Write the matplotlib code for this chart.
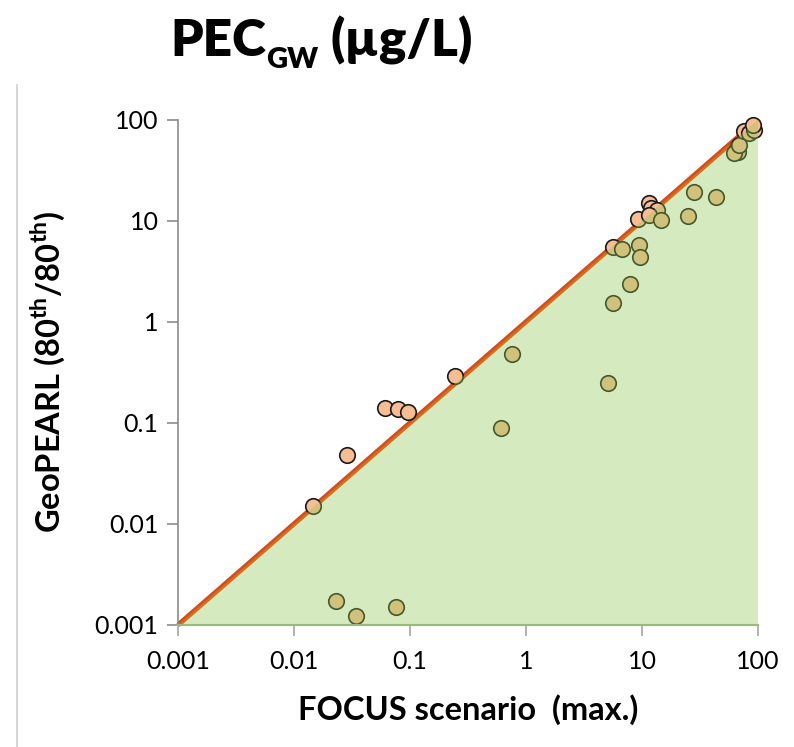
import matplotlib
matplotlib.use("Agg")
import matplotlib.pyplot as plt
from matplotlib.lines import Line2D
import numpy as np

plt.rcParams['font.family'] = ['Lato', 'DejaVu Sans']
plt.rcParams['mathtext.fontset'] = 'custom'
plt.rcParams['mathtext.rm'] = 'Lato'
plt.rcParams['mathtext.bf'] = 'Lato:bold'

# FOCUS scenario (max.) vs GeoPEARL (80th/80th) PEC_GW values (µg/L)
focus_x = [0.0289, 0.0608, 0.0794, 0.097, 0.242, 9.18, 11.4, 5.58, 6.76,
           0.0147, 0.0228, 0.0345, 0.075, 0.604, 0.751, 5.07, 5.58, 7.84,
           9.36, 9.55, 11.9, 13.4, 11.4, 14.5, 24.9, 28.1, 43.4,
           65.6, 67.0, 61.8, 68.3, 75.5, 83.4, 92.0, 90.0]
geopearl_y = [0.0478, 0.139, 0.136, 0.127, 0.288, 10.5, 15.1, 5.45, 5.23,
              0.0149, 0.00171, 0.00122, 0.0015, 0.0883, 0.476, 0.246, 1.52, 2.34,
              5.70, 4.34, 13.5, 12.9, 11.3, 10.2, 11.0, 19.3, 17.3,
              51.9, 47.4, 46.3, 55.6, 76.4, 72.9, 78.2, 87.5]

axis_min, axis_max = 0.001, 100
tick_vals = [0.001, 0.01, 0.1, 1, 10, 100]
tick_labels = ['0.001', '0.01', '0.1', '1', '10', '100']

fig = plt.figure(figsize=(7.94, 7.47), dpi=100)
ax = fig.add_axes([178/794, 1-625/747, 580/794, 505.4/747])
ax.set_xscale('log')
ax.set_yscale('log')
ax.set_xlim(axis_min, axis_max)
ax.set_ylim(axis_min, axis_max)

# 1:1 line
ax.plot([axis_min, axis_max], [axis_min, axis_max], color='#e2480f', lw=3.6,
        zorder=1, solid_capstyle='butt', clip_on=False)
# points
ax.scatter(focus_x, geopearl_y, s=125, facecolor='#f8bd92', edgecolor='#1a1a1a',
           linewidth=1.2, zorder=2, clip_on=False)
# translucent green area below the 1:1 line
ax.fill([axis_min, axis_max, axis_max], [axis_min, axis_max, axis_min],
        color='#8dca50', alpha=0.36, lw=0, zorder=3, clip_on=False)
ax.plot([axis_min, axis_max], [axis_min, axis_min], color='#9cb87e', lw=1.5,
        zorder=4, clip_on=False)

for s in ['top', 'right']:
    ax.spines[s].set_visible(False)
ax.spines['bottom'].set_visible(False)
ax.spines['left'].set_color('#8c8c8c')
ax.spines['left'].set_linewidth(1.2)

ax.set_xticks(tick_vals)
ax.set_xticklabels(tick_labels)
ax.set_yticks(tick_vals)
ax.set_yticklabels(tick_labels)
ax.minorticks_off()
ax.tick_params(axis='both', which='major', labelsize=18, length=8, width=1.2,
               color='#a6a6a6', direction='out', pad=6)
ax.tick_params(axis='x', pad=10)
ax.tick_params(axis='y', color='#8c8c8c')

ax.set_xlabel('FOCUS scenario  (max.)', fontsize=23.5, fontweight='bold', labelpad=15)
ax.set_ylabel(r'GeoPEARL (80$^{\mathbf{th}}$/80$^{\mathbf{th}}$)', fontsize=23.5,
              fontweight='bold', labelpad=20)

# title built from pieces so the subscript sits low like the original
renderer = fig.canvas.get_renderer()
x0 = 170 / 794
base = 1 - 56 / 747
t1 = fig.text(x0, base, 'PEC', fontsize=37, fontweight='heavy', ha='left', va='baseline')
bb = t1.get_window_extent(renderer)
x1 = bb.x1 / fig.bbox.width
t2 = fig.text(x1 + 0.001, base - 12 / 747, 'GW', fontsize=21, fontweight='heavy',
              ha='left', va='baseline')
bb2 = t2.get_window_extent(renderer)
x2 = bb2.x1 / fig.bbox.width
fig.text(x2 + 0.015, base, '(µg/L)', fontsize=37, fontweight='heavy',
         ha='left', va='baseline')

fig.add_artist(Line2D([17/794, 17/794], [0, 1-85/747], transform=fig.transFigure,
                      color='#cfcfcf', lw=1.2))

fig.savefig('out.png', dpi=100)
